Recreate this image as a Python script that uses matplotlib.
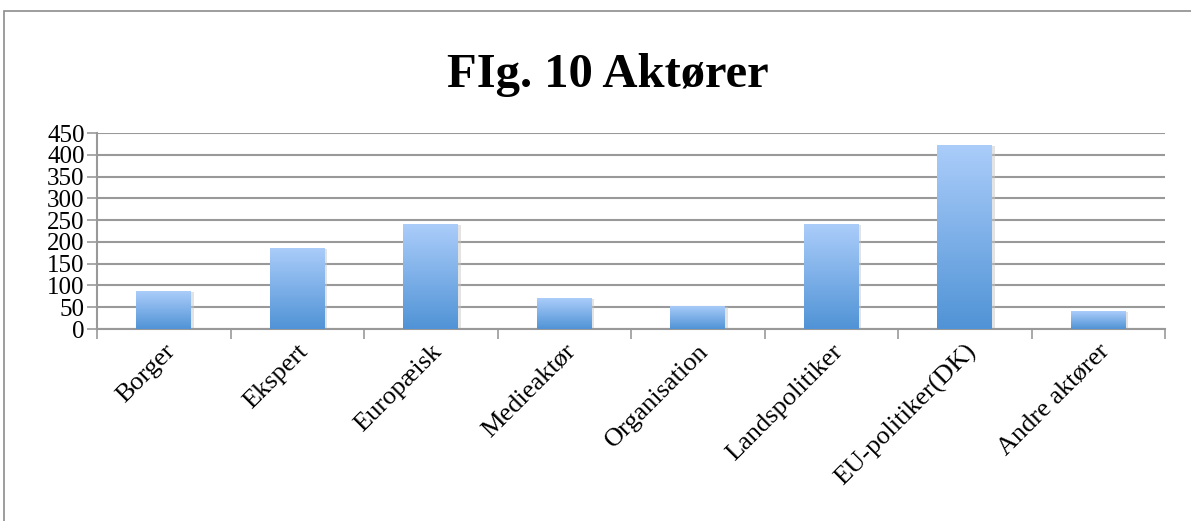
import numpy as np
import matplotlib.pyplot as plt
from matplotlib.colors import LinearSegmentedColormap
from matplotlib.patches import Rectangle

categories = ['Borger', 'Ekspert', 'Europæisk', 'Medieaktør', 'Organisation',
              'Landspolitiker', 'EU-politiker(DK)', 'Andre aktører']
values = [87, 186, 241, 71, 53, 241, 422, 41]
yticks = [0, 50, 100, 150, 200, 250, 300, 350, 400, 450]

plt.rcParams['font.family'] = ['Liberation Serif', 'DejaVu Serif']

fig = plt.figure(figsize=(11.91, 5.21), dpi=100)
fig.patches.append(Rectangle((4 / 1191, -0.1), 1.2, 1.1 - 11 / 521,
                             transform=fig.transFigure, fill=False,
                             edgecolor='#8c8c8c', linewidth=1.2))

ax = fig.add_axes([97 / 1191, 1 - 329 / 521, (1165 - 97) / 1191, (329 - 133) / 521])

x = np.arange(len(categories))
bars = ax.bar(x, values, width=0.41, color='none', edgecolor='none', zorder=3)

cmap = LinearSegmentedColormap.from_list('bl', ['#5093d6', '#abcdfa'])
grad = np.linspace(0, 1, 256).reshape(-1, 1)
for b in bars:
    x0, w, h = b.get_x(), b.get_width(), b.get_height()
    # soft shadow
    ax.add_patch(Rectangle((x0 + 0.01, -2), w + 0.01, h, facecolor='#c8c8c8',
                           edgecolor='none', alpha=0.5, zorder=2))
    im = ax.imshow(grad, cmap=cmap, origin='lower', aspect='auto',
                   extent=[x0, x0 + w, 0, h], zorder=3)
    im.set_clip_path(b)

ax.set_xlim(-0.5, len(categories) - 0.5)
ax.set_ylim(0, 450)
ax.set_yticks(yticks)
ax.set_yticklabels([str(t) for t in yticks], fontsize=18)
ax.yaxis.grid(True, color='#999999', linewidth=1.5, zorder=0)
ax.set_axisbelow(True)

ax.set_xticks(np.arange(len(categories) + 1) - 0.5)
ax.set_xticklabels([])
ax.set_xticks(x, minor=True)
ax.set_xticklabels(categories, minor=True, rotation=45, ha='right',
                   rotation_mode='anchor', fontsize=19)
ax.tick_params(axis='x', which='minor', length=0, pad=8)
ax.tick_params(axis='x', which='major', length=7, color='#999999', width=1.2)
ax.tick_params(axis='y', length=7, color='#999999', width=1.2, pad=2)

for s in ['top', 'right']:
    ax.spines[s].set_visible(False)
for s in ['left', 'bottom']:
    ax.spines[s].set_color('#999999')
    ax.spines[s].set_linewidth(1.5)

fig.text(608 / 1191, 1 - 75 / 521, 'FIg. 10 Aktører', ha='center', va='center',
         fontsize=35, fontweight='bold')

fig.savefig('out.png', dpi=100)
